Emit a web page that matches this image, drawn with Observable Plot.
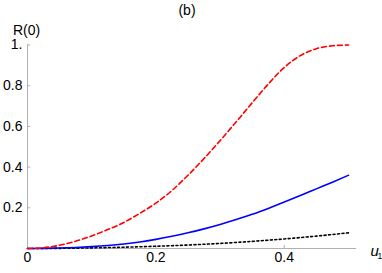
<!DOCTYPE html>
<html><head>
<meta charset="utf-8">
<script src="https://cdn.jsdelivr.net/npm/d3@7"></script>
<script src="https://cdn.jsdelivr.net/npm/@observablehq/plot@0.6"></script>
<style>body{margin:0;background:#fff} svg{display:block}</style>
</head><body><div id="chart"></div>
<script>
const u1 = [0,0.025,0.05,0.075,0.1,0.125,0.15,0.175,0.2,0.225,0.25,0.275,0.3,0.325,0.35,0.375,0.4,0.425,0.45,0.475,0.5];
const redR = [0,0.004,0.016,0.036,0.062,0.093,0.128,0.173,0.223,0.285,0.36,0.442,0.53,0.622,0.716,0.808,0.89,0.948,0.982,0.996,1.0];
const blueR = [0,0.0006,0.0025,0.005,0.009,0.0145,0.022,0.032,0.045,0.06,0.077,0.0965,0.118,0.142,0.168,0.197,0.228,0.26,0.293,0.326,0.36];
const blackR = [0,0.0002,0.0007,0.0017,0.003,0.0046,0.0065,0.0086,0.011,0.0138,0.017,0.0208,0.025,0.0298,0.035,0.0408,0.047,0.0538,0.061,0.0688,0.077];
const xTicks = [0,0.2,0.4];
const yTicks = [0.2,0.4,0.6,0.8,1];
const title = "(b)";
const yLabel = "R(0)";

const rows = (vals) => u1.map((x,i)=>({x, y: vals[i]}));
const font = "Liberation Sans, Arial, sans-serif";
const axisGray = "#b0b0b0";

const chart = Plot.plot({
  width: 382, height: 273,
  marginLeft: 27, marginRight: 26, marginTop: 44.5, marginBottom: 25,
  style: {fontFamily: font, background: "#fff"},
  x: {domain: [0, 0.5125]},
  y: {domain: [0, 1]},
  marks: [
    Plot.ruleX([0], {stroke: axisGray, strokeWidth: 1}),
    Plot.ruleY([0], {stroke: axisGray, strokeWidth: 1}),
    Plot.ruleX(xTicks.filter(d=>d>0), {x: d=>d, y1: 0, y2: 0.015, stroke: axisGray}),
    Plot.ruleY(yTicks, {y: d=>d, x1: 0, x2: 0.005, stroke: axisGray}),
    Plot.axisX({ticks: xTicks, tickSize: 0, tickPadding: 4, fontSize: 14, tickFormat: d=>String(d), label: null}),
    Plot.axisY({ticks: yTicks, tickSize: 0, tickPadding: 5, fontSize: 14, tickFormat: d=> d===1 ? "1." : String(d), label: null}),
    Plot.line(rows(blackR), {x:"x", y:"y", stroke:"#000", strokeWidth:1.6, strokeDasharray:"2,2.5", curve:"monotone-x"}),
    Plot.line(rows(blueR), {x:"x", y:"y", stroke:"#0000ff", strokeWidth:1.6, curve:"monotone-x"}),
    Plot.line(rows(redR), {x:"x", y:"y", stroke:"#ff0000", strokeWidth:1.6, strokeDasharray:"5,3", curve:"monotone-x"}),
    Plot.text([title], {frameAnchor:"top", text:d=>d, dx:-5, dy:-30, lineAnchor:"bottom", fontSize:14, fill:"#000"}),
    Plot.text([yLabel], {frameAnchor:"top-left", text:d=>d, dx:-1, dy:-10, lineAnchor:"bottom", textAnchor:"middle", fontSize:14, fill:"#000"}),
    Plot.text(["u"], {frameAnchor:"bottom-right", text:d=>d, dx:14, dy:3, lineAnchor:"middle", textAnchor:"start", fontSize:15, fontStyle:"italic", fill:"#000"}),
    Plot.text(["1"], {frameAnchor:"bottom-right", text:d=>d, dx:21, dy:8, lineAnchor:"middle", textAnchor:"start", fontSize:8.5, fill:"#000"})
  ]
});
document.getElementById("chart").appendChild(chart);
</script>
</body></html>
